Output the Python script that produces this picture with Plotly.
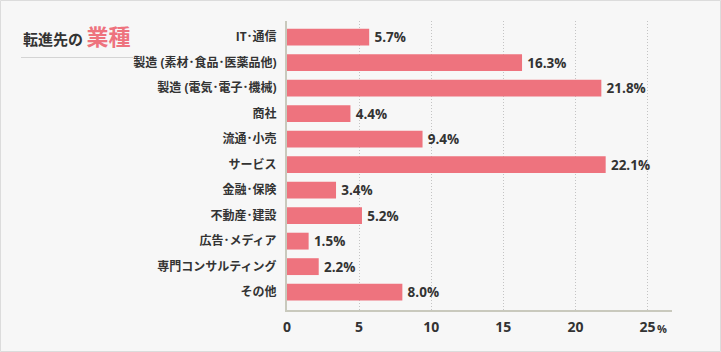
import plotly.graph_objects as go

categories = ["IT･通信", "製造 (素材･食品･医薬品他)", "製造 (電気･電子･機械)", "商社", "流通･小売",
              "サービス", "金融･保険", "不動産･建設", "広告･メディア", "専門コンサルティング", "その他"]
values = [5.7, 16.3, 21.8, 4.4, 9.4, 22.1, 3.4, 5.2, 1.5, 2.2, 8.0]
x_ticks = [0, 5, 10, 15, 20, 25]

FONT = "Open Sans, Noto Sans CJK JP"
CJK = "Noto Sans CJK JP"
W, H = 721, 352
L, R, T, B = 287, 49, 21, 42
pw, ph = W - L - R, H - T - B

fig = go.Figure()
fig.add_trace(go.Bar(
    y=categories, x=values, orientation="h",
    marker=dict(color="#ee737e", line=dict(width=0)),
    text=[f"\u2009{v:.1f}%" for v in values], textposition="outside",
    constraintext="none",
    textfont=dict(family=FONT, size=13.5, color="#333333", weight="bold"),
    cliponaxis=False, hoverinfo="skip",
))

fig.update_layout(
    width=W, height=H, margin=dict(l=L, r=R, t=T, b=B),
    paper_bgcolor="#f7f7f7", plot_bgcolor="#f7f7f7",
    bargap=0.34, showlegend=False,
    font=dict(family=FONT, color="#333333"),
    xaxis=dict(range=[0, 26.7], tickvals=x_ticks, ticktext=[str(t) for t in x_ticks],
               showgrid=True, gridcolor="#c4c4c4", griddash="1px,2px", gridwidth=1,
               zeroline=False, showline=True, linecolor="#c9c9bd", linewidth=2,
               tickfont=dict(family=FONT, size=14, color="#333333", weight="bold"),
               ticks="", ticklabelstandoff=3, fixedrange=True),
    yaxis=dict(type="category", range=[10.7, -0.63], showgrid=False, zeroline=False,
               showline=True, linecolor="#c9c9bd", linewidth=2,
               tickfont=dict(family=FONT, size=12, color="#333333", weight="bold"),
               ticks="", ticklabelstandoff=6, fixedrange=True),
)

# "%" unit after last tick
fig.add_annotation(x=25, y=0, xref="x", yref="paper", text="%", showarrow=False,
                   xanchor="left", yanchor="top", xshift=8, yshift=-9,
                   font=dict(family=FONT, size=11, color="#333333", weight="bold"))

# title
fig.add_annotation(x=(21 - L) / pw, y=(H - B - 35) / ph, xref="paper", yref="paper",
                   text="<b>転進先の</b> <span style='font-size:22px;color:#ee737e'><b>業種</b></span>",
                   showarrow=False, xanchor="left", yanchor="middle",
                   font=dict(family=CJK, size=15, color="#333333"))

# title underline
fig.add_shape(type="line", xref="paper", yref="paper",
              x0=(21 - L) / pw, x1=(133 - L) / pw,
              y0=(H - B - 57.5) / ph, y1=(H - B - 57.5) / ph,
              line=dict(color="#d4d4d4", width=1))

# outer border
fig.add_shape(type="rect", xref="paper", yref="paper",
              x0=(0.5 - L) / pw, x1=(W - 0.5 - L) / pw,
              y0=(H - B - (H - 0.5)) / ph, y1=(H - B - 0.5) / ph,
              line=dict(color="#dcdcdc", width=1), layer="below")

fig.write_html("out.html")
